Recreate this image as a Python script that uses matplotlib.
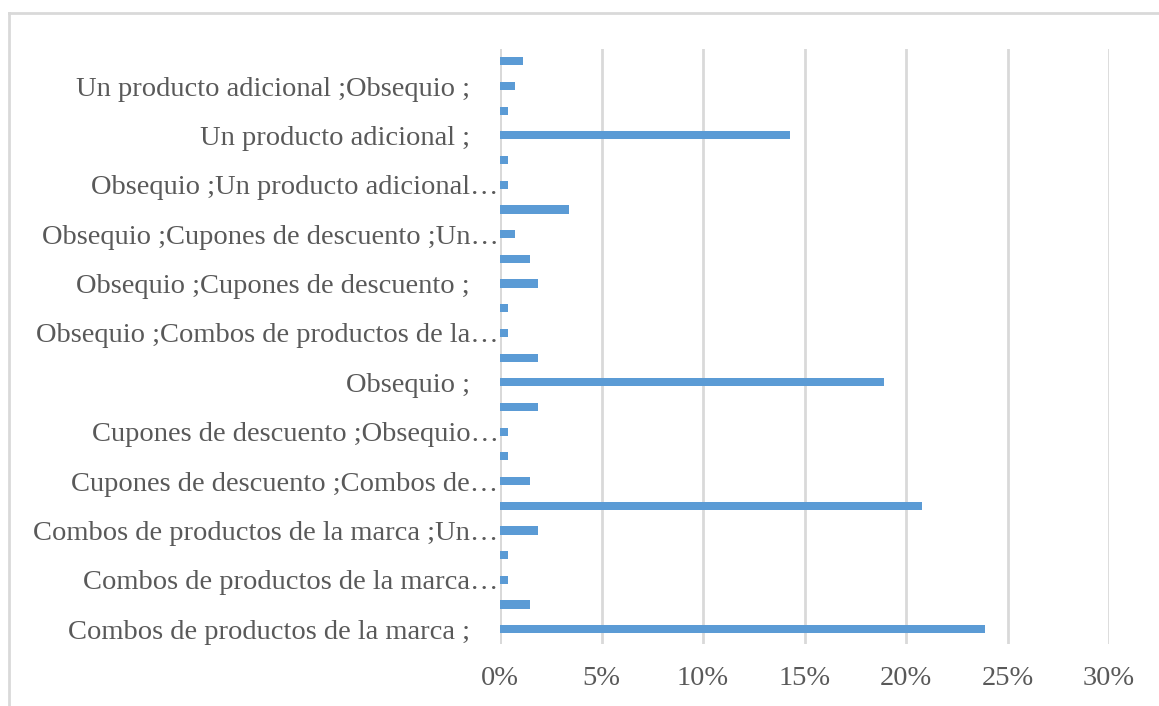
import matplotlib.pyplot as plt
from matplotlib.lines import Line2D
from matplotlib.ticker import FuncFormatter

# bars listed bottom to top; only every other bar carries a visible label
values = [23.9, 1.49, 0.37, 0.37, 1.86, 20.8, 1.49, 0.37,
          0.37, 1.86, 18.93, 1.86, 0.37, 0.37, 1.86, 1.49,
          0.74, 3.38, 0.37, 0.37, 14.28, 0.37, 0.74, 1.12]

labels = [
    "Combos de productos de la marca ;    ",
    "Combos de productos de la marca…",
    "Combos de productos de la marca ;Un…",
    "Cupones de descuento ;Combos de…",
    "Cupones de descuento ;Obsequio…",
    "Obsequio ;    ",
    "Obsequio ;Combos de productos de la…",
    "Obsequio ;Cupones de descuento ;    ",
    "Obsequio ;Cupones de descuento ;Un…",
    "Obsequio ;Un producto adicional…",
    "Un producto adicional ;    ",
    "Un producto adicional ;Obsequio ;    ",
]

x_ticks = [0, 5, 10, 15, 20, 25, 30]

plt.rcParams["font.family"] = ["Liberation Serif", "DejaVu Serif"]

fig = plt.figure(figsize=(11.59, 7.06), dpi=100)
ax = fig.add_axes([500 / 1159, 62 / 706, 609 / 1159, 595 / 706])

ax.barh(range(len(values)), values, height=0.33, color="#5b9bd5", zorder=3)

ax.set_xlim(0, 30)
ax.set_ylim(-0.6, 23.5)
ax.set_xticks(x_ticks)
ax.xaxis.set_major_formatter(FuncFormatter(lambda v, _: f"{v:.0f}%"))
ax.set_yticks(range(0, len(values), 2))
ax.set_yticklabels(labels)

ax.grid(axis="x", color="#d9d9d9", linewidth=2, zorder=0)
for side in ["top", "right", "bottom", "left"]:
    ax.spines[side].set_visible(False)
ax.axvline(0, color="#d9d9d9", linewidth=2, zorder=1)

ax.tick_params(axis="y", length=0, pad=1, labelsize=20.5, labelcolor="#595959")
ax.tick_params(axis="x", length=0, pad=16, labelsize=20.5, labelcolor="#595959")

# outer chart border (left and top edges only visible)
fig.add_artist(Line2D([9 / 1159, 9 / 1159], [0, 1 - 13 / 706],
                      transform=fig.transFigure, color="#d9d9d9", linewidth=2))
fig.add_artist(Line2D([9 / 1159, 1], [1 - 13 / 706, 1 - 13 / 706],
                      transform=fig.transFigure, color="#d9d9d9", linewidth=2))

fig.savefig("out.png", dpi=100)
